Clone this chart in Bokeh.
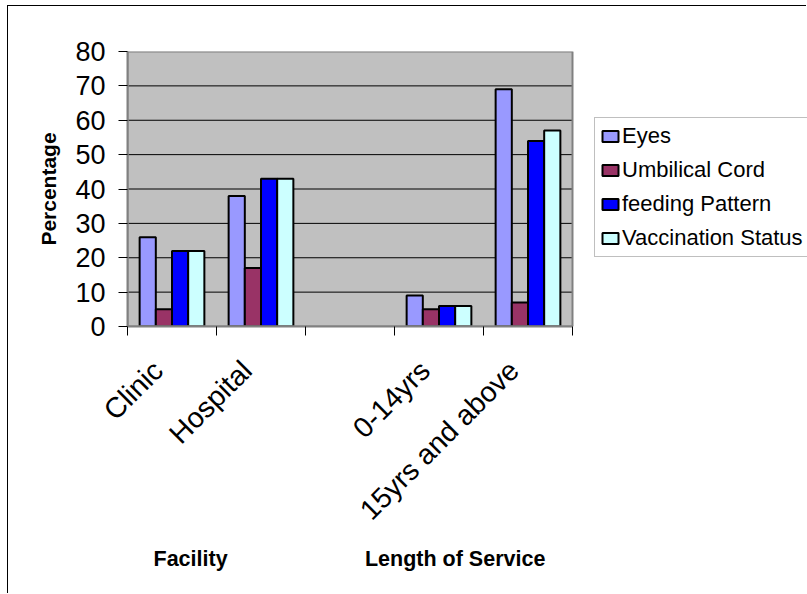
import numpy as np
from math import pi
from bokeh.plotting import figure
from bokeh.models import (Range1d, FixedTicker, Legend, LegendItem, Title,
                          ColumnDataSource)
from bokeh.transform import dodge
from bokeh.embed import file_html
from bokeh.resources import INLINE

# ---------------- data ----------------
categories = ["Clinic", "Hospital", "", "0-14yrs", "15yrs and above"]
eyes = [26, 38, np.nan, 9, 69]
umbilical_cord = [5, 17, np.nan, 5, 7]
feeding_pattern = [22, 43, np.nan, 6, 54]
vaccination_status = [22, 43, np.nan, 6, 57]
series_names = ["Eyes", "Umbilical Cord", "feeding Pattern", "Vaccination Status"]
series_colors = ["#9999FF", "#993366", "#0000FF", "#CCFFFF"]
y_ticks = [0, 10, 20, 30, 40, 50, 60, 70, 80]
y_title = "Percentage"
group_titles = ["Facility", "Length of Service"]

FONT = "Liberation Sans"
n_cat = len(categories)
y_max = y_ticks[-1]

# layout: the frame runs to the right edge so the legend can sit inside it;
# the grey plot area covers only the category slots
plot_area_px = 445
frame_px = 680
x_end = n_cat * frame_px / plot_area_px

xpos = np.arange(n_cat) + 0.5
src = ColumnDataSource(dict(
    x=xpos,
    s0=np.array(eyes, dtype=float),
    s1=np.array(umbilical_cord, dtype=float),
    s2=np.array(feeding_pattern, dtype=float),
    s3=np.array(vaccination_status, dtype=float),
))

p = figure(width=799, height=588, output_backend="svg", toolbar_location=None,
           x_range=Range1d(0, x_end), y_range=Range1d(0, y_max),
           min_border_left=119, min_border_right=0,
           min_border_top=45, min_border_bottom=268)
p.styles = {"margin-left": "7px", "margin-top": "5px",
            "border-left": "1px solid black", "border-top": "1px solid black"}

p.background_fill_color = "white"
p.border_fill_color = "white"
p.outline_line_color = None
p.xgrid.visible = False
p.ygrid.visible = False

# grey plot area, gridlines
p.quad(left=0, right=n_cat, bottom=0, top=y_max, fill_color="#C0C0C0", line_color=None)
p.segment(x0=0, x1=n_cat, y0=y_ticks[1:-1], y1=y_ticks[1:-1], line_color="black", line_width=1)

bw = 1 / 5.5
offsets = [-1.5 * bw, -0.5 * bw, 0.5 * bw, 1.5 * bw]
renderers = []
for i, (name, col) in enumerate(zip(series_names, series_colors)):
    r = p.vbar(x=dodge("x", offsets[i], range=p.x_range), top="s%d" % i,
               bottom=0, width=bw, source=src, fill_color=col,
               line_color="black", line_width=2)
    renderers.append(r)

# plot-area border (top and right visible; left/bottom under the axes)
p.quad(left=0, right=n_cat, bottom=0, top=y_max, fill_color=None,
       line_color="#808080", line_width=2)

# y axis
ya = p.yaxis[0]
ya.ticker = FixedTicker(ticks=y_ticks)
ya.axis_line_color = "#808080"
ya.axis_line_width = 2
ya.major_tick_line_color = "black"
ya.major_tick_out = 9
ya.major_tick_in = 0
ya.minor_tick_line_color = None
ya.major_label_text_font = FONT
ya.major_label_text_font_size = "27px"
ya.major_label_text_color = "black"
ya.major_label_standoff = 13
ya.axis_label = y_title
ya.axis_label_text_font = FONT
ya.axis_label_text_font_size = "21px"
ya.axis_label_text_font_style = "bold"
ya.axis_label_text_color = "black"
ya.axis_label_standoff = 12

# x axis: labels near slot centres (shifted slightly left like the original),
# ticks at slot boundaries drawn as minor ticks
label_shift = 0.16
label_ticks = [float(v - label_shift) for v in xpos]
xa = p.xaxis[0]
xa.bounds = (0, n_cat)
xa.ticker = FixedTicker(ticks=label_ticks, minor_ticks=list(range(n_cat + 1)))
xa.major_label_overrides = {t: c for t, c in zip(label_ticks, categories)}
xa.axis_line_color = "#808080"
xa.axis_line_width = 2
xa.major_tick_out = 0
xa.major_tick_in = 0
xa.major_tick_line_color = None
xa.minor_tick_line_color = "black"
xa.minor_tick_out = 9
xa.minor_tick_in = 0
xa.major_label_orientation = pi / 4
xa.major_label_text_font = FONT
xa.major_label_text_font_size = "28.5px"
xa.major_label_text_color = "black"
xa.major_label_standoff = 30

gap = "\u00a0" * 23
p.add_layout(Title(text=group_titles[0] + gap + group_titles[1], align="left",
                   offset=26, standoff=8, text_font=FONT,
                   text_font_size="21.5px", text_font_style="bold",
                   text_color="black"), "below")

legend = Legend(items=[LegendItem(label=n, renderers=[r]) for n, r in zip(series_names, renderers)],
                location=(467, 69), orientation="vertical")
legend.label_text_font = FONT
legend.label_text_font_size = "22px"
legend.label_text_color = "black"
legend.glyph_width = 20
legend.glyph_height = 14
legend.label_standoff = 2
legend.label_height = 25
legend.label_width = 195
legend.spacing = 8
legend.padding = 5
legend.margin = 0
legend.border_line_color = "#808080"
legend.border_line_width = 1
legend.background_fill_color = "white"
legend.background_fill_alpha = 1
p.add_layout(legend)

open("out.html", "w").write(file_html(p, INLINE))
